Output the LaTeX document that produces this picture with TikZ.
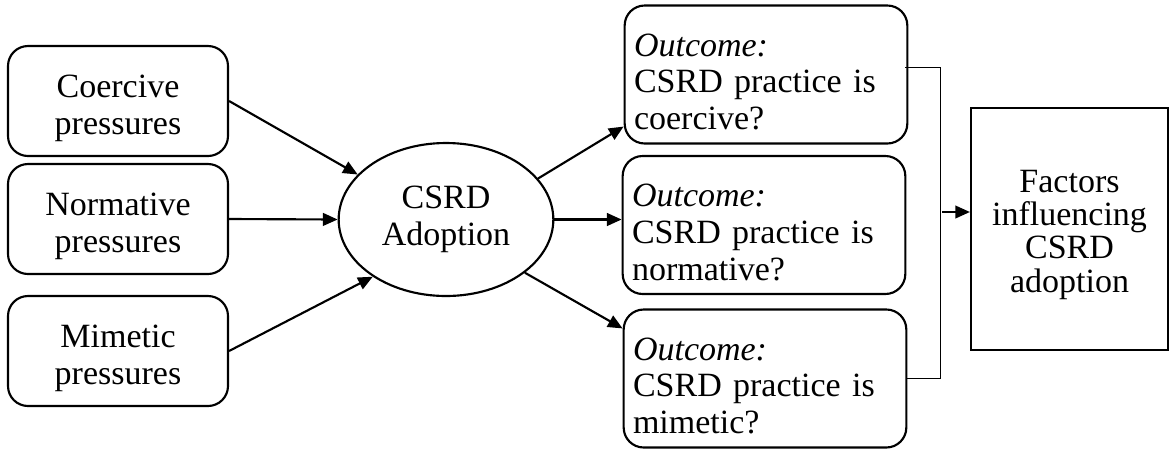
\documentclass[tikz,border=0pt]{standalone}
\usepackage{fontspec}
\setmainfont{Liberation Serif}
\usetikzlibrary{shapes, arrows.meta, positioning, calc}
\newcommand{\padtop}[1]{\rule{0pt}{#1}}
\newcommand{\outlead}{\padtop{28pt}\textit{Outcome:}}
\tikzset{
  pressbox/.style={draw, line width=1.6pt, rounded corners=15pt, minimum width=165pt, minimum height=82.5pt, align=center, inner sep=0pt},
  outbox/.style={draw, line width=1.6pt, rounded corners=15pt, minimum width=211.5pt, minimum height=103.5pt, text width=198pt, align=left, inner xsep=7pt, inner ysep=0pt},
  flowarrow/.style={line width=1.6pt, -{Triangle[length=11pt, width=9.5pt]}},
}

\begin{document}
\begin{tikzpicture}[x=0.75pt, y=-0.75pt, font=\fontsize{25.5}{27.5}\selectfont]
  \useasboundingbox (0,0) rectangle (1171,455);
  \node[pressbox] (coer) at (118,101) {\padtop{28pt}Coercive\\pressures};
  \node[pressbox] (norm) at (118,219) {\padtop{28pt}Normative\\pressures};
  \node[pressbox] (mim) at (118,351) {\padtop{28pt}Mimetic\\pressures};
  \node[draw, ellipse, line width=1.6pt, minimum width=161pt, minimum height=114.75pt, inner sep=0pt, align=center] (adopt) at (446,219.5) {CSRD\\Adoption};
  \node[outbox] (outc) at (766,74.5) {\outlead\\CSRD practice is\\coercive?};
  \node[outbox] (outn) at (764,225) {\outlead\\CSRD practice is\\normative?};
  \node[outbox] (outm) at (765,378.5) {\outlead\\CSRD practice is\\mimetic?};
  \node[draw, line width=1.6pt, minimum width=147.75pt, minimum height=181.5pt, align=center, inner sep=0pt, font=\fontsize{25.5}{25}\selectfont] (fact) at (1069.5,229) {\padtop{25pt}Factors\\influencing\\CSRD\\adoption};

  \draw[flowarrow] (coer.east) -- (adopt.153);
  \draw[flowarrow] (norm.east) -- (adopt.west);
  \draw[flowarrow] (mim.east) -- (adopt.218);
  \draw[flowarrow] (adopt.24) -- ($(outc.south west)+(0,-18)$);
  \draw[flowarrow] (adopt.east) -- (adopt.east -| outn.west);
  \draw[flowarrow] (adopt.326) -- ($(outm.north west)+(0,20)$);

  \draw[line width=0.8pt] ($(outc.east)+(-3,-7)$) -- ++(35,0) coordinate (brk) |- (outm.east);
  \coordinate (fin) at ($(fact.west)+(0,-17)$);
  \draw[flowarrow] ([xshift=1.5pt]brk |- fin) -- (fin);
\end{tikzpicture}
\end{document}
